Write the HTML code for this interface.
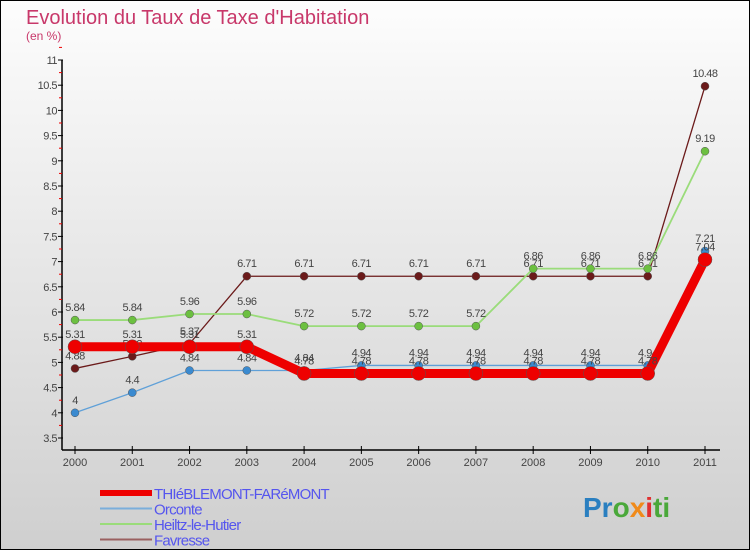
<!DOCTYPE html>
<html><head><meta charset="utf-8"><style>
body{margin:0;width:750px;height:550px;overflow:hidden;font-family:"Liberation Sans",sans-serif}
svg{display:block}
</style></head><body>
<svg id="c" width="750" height="550" xmlns="http://www.w3.org/2000/svg">
<defs><linearGradient id="bg" x1="0" y1="0" x2="0" y2="1"><stop offset="0" stop-color="#fdfdfd"/><stop offset="1" stop-color="#cfcfcf"/></linearGradient></defs>
<rect x="0" y="0" width="750" height="550" fill="url(#bg)" stroke="#000" stroke-width="2"/>
<text x="26" y="24" font-size="20" fill="#c8386a">Evolution du Taux de Taxe d'Habitation</text>
<text x="26" y="40" font-size="12" fill="#c8386a">(en %)</text>
<g id="axes"></g><g id="series"></g><g id="legend"></g>
<text x="583" y="517" font-size="28" font-weight="bold"><tspan fill="#2a7fc0">Pr</tspan><tspan fill="#4aa83a">o</tspan><tspan fill="#f08a1a">x</tspan><tspan fill="#e03030">i</tspan><tspan fill="#4aa83a">ti</tspan></text>
</svg>
<script>
const years=[2000,2001,2002,2003,2004,2005,2006,2007,2008,2009,2010,2011];
const yTicks=[3.5,4,4.5,5,5.5,6,6.5,7,7.5,8,8.5,9,9.5,10,10.5,11];
const names=["THIéBLEMONT-FARéMONT","Orconte","Heiltz-le-Hutier","Favresse"];
const thi=[5.31,5.31,5.31,5.31,4.78,4.78,4.78,4.78,4.78,4.78,4.78,7.04];
const orc=[4,4.4,4.84,4.84,4.84,4.94,4.94,4.94,4.94,4.94,4.94,7.21];
const hei=[5.84,5.84,5.96,5.96,5.72,5.72,5.72,5.72,6.86,6.86,6.86,9.19];
const fav=[4.88,5.12,5.37,6.71,6.71,6.71,6.71,6.71,6.71,6.71,6.71,10.48];
const NS="http://www.w3.org/2000/svg";
const X=i=>75+i*(630/11), Y=v=>438-(v-3.5)*(378/7.5);
function mk(t,a,p){const e=document.createElementNS(NS,t);for(const k in a)e.setAttribute(k,a[k]);p.appendChild(e);return e;}
const ax=document.getElementById('axes');
let l=mk('line',{x1:62,y1:60,x2:62,y2:450,stroke:'#000','stroke-width':1.5},ax);


l=mk('line',{x1:62,y1:450,x2:720,y2:450,stroke:'#000','stroke-width':1.5},ax);


yTicks.forEach(v=>{const y=Y(v);mk('line',{x1:58,y1:y,x2:63,y2:y,stroke:'#000'},ax);
 mk('line',{x1:59,y1:y-12.6,x2:62,y2:y-12.6,stroke:'#e00'},ax);
 const t=mk('text',{x:57,y:y+4,'font-size':11,fill:'#444','text-anchor':'end','letter-spacing':'-0.5'},ax);t.textContent=v;
 
 });
years.forEach((yr,i)=>{const x=X(i);mk('line',{x1:x,y1:446,x2:x,y2:454,stroke:'#000'},ax);
 const t=mk('text',{x:x,y:466,'font-size':11,fill:'#444','text-anchor':'middle'},ax);t.textContent=yr;
 
 });
const sg=document.getElementById('series');
const defs=[[fav,'#6b1a1a','#6b1a1a',1.3,4,'favresse'],[hei,'#9adc7a','#6cc040',1.8,4,'heiltz-le-hutier'],[orc,'#5fa0d8','#3a8ad0',1.3,4,'orconte'],[thi,'#ee0000','#ee0000',9,7,'thieblemont-faremont']];
defs.forEach(([d,c,mc,w,r,n])=>{
 const p=mk('polyline',{points:d.map((v,i)=>X(i)+','+Y(v)).join(' '),fill:'none',stroke:c,'stroke-width':w,'stroke-linejoin':'round'},sg);
 
 
 d.forEach((v,i)=>{const m=mk('circle',{cx:X(i),cy:Y(v),r:r,fill:mc,stroke:'#555','stroke-width':0.5},sg);
  
  
  const t=mk('text',{x:X(i),y:Y(v)-9,'font-size':11,fill:'#444','text-anchor':'middle','letter-spacing':'-0.5'},sg);t.textContent=v;
  
  });
});
const lg=document.getElementById('legend');
const lc=['#ee0000','#7aaedb','#9adc7a','#9a6060'],lw=[6,2,2,2];
names.forEach((n,i)=>{const y=493+i*15.5;
 const s=mk('line',{x1:100,y1:y,x2:152,y2:y,stroke:lc[i],'stroke-width':lw[i]},lg);
 
 
 const t=mk('text',{x:154,y:y+6,'font-size':15,fill:'#5555ee','letter-spacing':'-0.8'},lg);t.textContent=n;
 
 });
</script>
</body></html>
